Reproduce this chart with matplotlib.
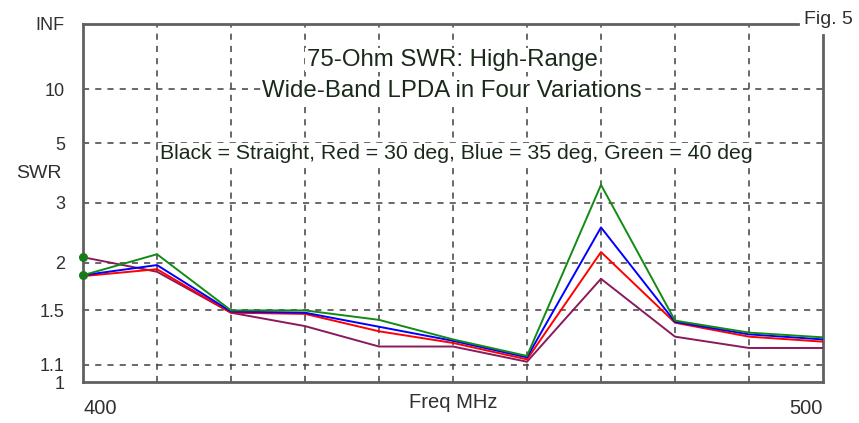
import numpy as np
import matplotlib
matplotlib.use('Agg')
import matplotlib.pyplot as plt
from matplotlib.lines import Line2D

plt.rcParams['font.family'] = ['Liberation Sans', 'DejaVu Sans']

# frequency points, MHz
freq = [400, 410, 420, 430, 440, 450, 460, 470, 480, 490, 500]

# 75-ohm SWR for each variation
swr_straight = [2.07, 1.89, 1.48, 1.37, 1.22, 1.22, 1.12, 1.81, 1.29, 1.21, 1.21]
swr_30deg = [1.84, 1.92, 1.48, 1.47, 1.33, 1.245, 1.135, 2.14, 1.397, 1.29, 1.254]
swr_35deg = [1.85, 1.97, 1.49, 1.48, 1.365, 1.26, 1.148, 2.52, 1.404, 1.307, 1.27]
swr_40deg = [1.85, 2.11, 1.50, 1.50, 1.42, 1.27, 1.157, 3.45, 1.414, 1.32, 1.285]

ytick_vals = [1, 1.1, 1.5, 2, 3, 5, 10, 1e9]
ytick_labels = ['1', '1.1', '1.5', '2', '3', '5', '10', 'INF']
ygrid = [1.1, 1.5, 2, 3, 5, 10]
xgrid = [410, 420, 430, 440, 450, 460, 470, 480, 490]


def to_gamma(s):
    s = np.asarray(s, dtype=float)
    return (s - 1.0) / (s + 1.0)


def from_gamma(g):
    g = np.asarray(g, dtype=float)
    with np.errstate(divide='ignore', invalid='ignore'):
        return (1.0 + g) / (1.0 - g)


fig = plt.figure(figsize=(8.59, 4.23), dpi=100)
ax = fig.add_axes([83/859, 1 - 382/423, 740/859, 358/423])
ax.set_yscale('function', functions=(to_gamma, from_gamma))
ax.set_xlim(400, 500)
ax.set_ylim(1, 1e9)

gcol = '#404040'
for v in ygrid:
    ax.axhline(v, color=gcol, lw=1.1, ls=(0, (4, 4)), zorder=1)
for v in xgrid:
    ax.axvline(v, color=gcol, lw=1.1, ls=(0, (4, 4)), zorder=1)

ax.plot(freq, swr_straight, color='#8a1a5c', lw=1.4, zorder=3)
ax.plot(freq, swr_30deg, color='#ff0000', lw=1.4, zorder=4)
ax.plot(freq, swr_35deg, color='#0000ff', lw=1.4, zorder=5)
ax.plot(freq, swr_40deg, color='#138a13', lw=1.4, zorder=6)
# start dots
ax.scatter([freq[0], freq[0]], [swr_straight[0], swr_40deg[0]], s=30,
           color='#1a7a1a', zorder=7, clip_on=False)

ax.set_yticks(ytick_vals)
ax.set_yticklabels(ytick_labels)
ax.set_xticks([400, 500])
ax.set_xticklabels(['400', '500'])
xl = ax.get_xticklabels()
xl[0].set_ha('left')
xl[1].set_ha('right')
ax.tick_params(length=0, labelcolor='#303030')
ax.tick_params(axis='y', pad=13, labelsize=13)
ax.tick_params(axis='x', pad=12, labelsize=14.5)
ax.set_xlabel('Freq MHz', fontsize=14.5, color='#303030', labelpad=-18)

scol = '#606060'
for side in ['top', 'right']:
    ax.spines[side].set_visible(False)
for side in ['left', 'bottom']:
    ax.spines[side].set_color(scol)
    ax.spines[side].set_linewidth(2)
ax.add_line(Line2D([0, 0.966], [1, 1], transform=ax.transAxes, color=scol,
                   lw=2, clip_on=False))
ax.add_line(Line2D([1, 1], [0, 0.97], transform=ax.transAxes, color=scol,
                   lw=2, clip_on=False))

fig.text(853/859, 1 - 19/423, 'Fig. 5', ha='right', va='center',
         fontsize=14, color='#303030')
fig.text(62/859, 1 - 174/423, 'SWR', ha='right', va='center',
         fontsize=14, color='#303030')

tcol = '#1a2a1a'
bb = dict(facecolor='white', edgecolor='none', pad=1)
ax.text(0.499, (382 - 66)/358, '75-Ohm SWR: High-Range', transform=ax.transAxes,
        ha='center', va='baseline', fontsize=17.3, color=tcol, bbox=bb, zorder=8)
ax.text(0.499, (382 - 97)/358, 'Wide-Band LPDA in Four Variations',
        transform=ax.transAxes, ha='center', va='baseline', fontsize=17.3,
        color=tcol, bbox=bb, zorder=8)
ax.text(0.504, (382 - 159)/358,
        'Black = Straight, Red = 30 deg, Blue = 35 deg, Green = 40 deg',
        transform=ax.transAxes, ha='center', va='baseline', fontsize=15.3,
        color=tcol, bbox=bb, zorder=8)

fig.savefig('out.png', dpi=100)
